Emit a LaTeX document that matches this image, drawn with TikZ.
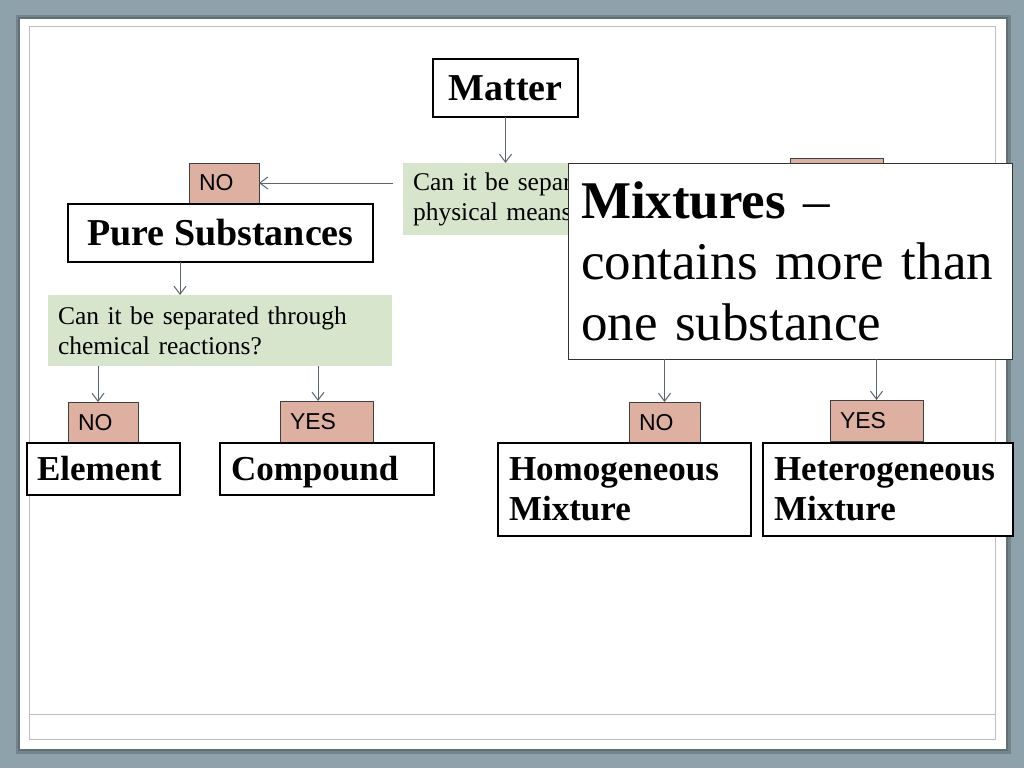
\documentclass[tikz,border=0pt]{standalone}
\usepackage{fontspec}
\setmainfont{Liberation Serif}
\newfontfamily\lblfont{Liberation Sans}
\usetikzlibrary{arrows.meta,calc}
\definecolor{bgblue}{RGB}{141,162,170}
\definecolor{salmon}{RGB}{222,176,161}
\definecolor{lgreen}{RGB}{215,229,205}
\definecolor{arrowgray}{RGB}{90,100,110}
\definecolor{frameline}{RGB}{190,190,190}
\tikzset{
  blackbox/.style={draw=black, line width=1.8pt, fill=white, inner sep=0pt, outer sep=0pt},
  bigtext/.style={font=\bfseries\fontsize{38}{44}\selectfont},
  midtext/.style={font=\bfseries\fontsize{35}{40}\selectfont},
  oneline/.style={text height=27.5pt, text depth=5.5pt},
  greenbox/.style={fill=lgreen, draw=none, inner sep=0pt, outer sep=0pt, anchor=north west,
    font=\fontsize{25.5}{30}\selectfont, align=left},
  lblbox/.style={draw=black!75, line width=0.8pt, fill=salmon, inner sep=0pt, outer sep=0pt,
    font=\lblfont\fontsize{23}{26}\selectfont},
  arr/.style={draw=arrowgray, line width=1pt, -{Straight Barb[length=8pt,width=12pt]}}
}
\begin{document}
\begin{tikzpicture}[x=1pt,y=-1pt]
\useasboundingbox (0,0) rectangle (1024,768);
% background and slide
\fill[bgblue] (0,0) rectangle (1024,768);
\fill[black,opacity=0.18] (16,15) rectangle (1011,754);
\fill[black,opacity=0.15] (18,17) rectangle (1008,751);
\fill[white] (20,19) rectangle (1006,749);
\draw[frameline, line width=1pt] (29,27) rectangle (995,739);
\draw[frameline, line width=1pt] (29,714) -- (995,714);

% top level
\node[blackbox, bigtext, minimum width=145pt, minimum height=58pt] (matter) at (505.5,88) {Matter};

\node[greenbox, text width=324pt, minimum height=72pt, inner xsep=10pt] (g1) at (403,163)
  {Can it be separated through\\physical means?};

\node[lblbox, minimum width=70pt, minimum height=40pt, text width=50pt, align=left, inner xsep=10pt] (no1) at (224,183) {NO};
\node[lblbox, minimum width=93pt, minimum height=40pt] (yes1) at (836.5,178) {};

\draw[arr] (matter.south) -- (matter.south |- g1.north);
\draw[arr, shorten <=10pt] (g1.west |- no1.east) -- (no1.east);

% pure substances branch
\node[blackbox, bigtext, minimum width=305pt, minimum height=58pt] (pure) at (220.5,233) {Pure Substances};

\node[greenbox, text width=324pt, minimum height=71pt, inner xsep=10pt] (g2) at (48,295)
  {Can it be separated through\\chemical reactions?};

\draw[arr] ([xshift=-40.5pt]pure.south) -- ([xshift=-40.5pt]pure.south |- g2.north);

\node[lblbox, minimum width=70pt, minimum height=41pt, text width=50pt, align=left, inner xsep=10pt] (no2) at (103,422.5) {NO};
\node[lblbox, minimum width=93pt, minimum height=42pt, text width=73pt, align=left, inner xsep=10pt] (yes2) at (326.5,422) {YES};

\draw[arr] ([xshift=-5pt]no2.north |- g2.south) -- ([xshift=-5pt]no2.north);
\draw[arr] ([xshift=-8.5pt]yes2.north |- g2.south) -- ([xshift=-8.5pt]yes2.north);

\node[blackbox, midtext, oneline, minimum width=153pt, minimum height=52pt, text width=133pt, align=left, inner xsep=10pt] (element) at (103.5,469) {Element};
\node[blackbox, midtext, oneline, minimum width=214pt, minimum height=52pt, text width=192pt, align=left, inner xsep=11pt] (compound) at (327,469) {Compound};

% mixtures branch
\node[lblbox, minimum width=71pt, minimum height=41pt, text width=51pt, align=left, inner xsep=10pt] (no3) at (664.5,422.5) {NO};
\node[lblbox, minimum width=93pt, minimum height=41pt, text width=73pt, align=left, inner xsep=10pt] (yes3) at (876.5,420.5) {YES};

\node[blackbox, midtext, minimum width=253pt, minimum height=93pt, text width=231pt, align=left, inner xsep=11pt] (homo) at (624.5,489.5) {Homogeneous\\Mixture};
\node[blackbox, midtext, minimum width=250pt, minimum height=93pt, text width=228pt, align=left, inner xsep=11pt] (hetero) at (888,489.5) {Heterogeneous\\Mixture};

% callout box on top
\node[draw=black!80, line width=1pt, fill=white, inner sep=0pt, outer sep=0pt,
  minimum width=444pt, minimum height=196pt, text width=418pt, inner xsep=13pt, align=left,
  font=\fontsize{53}{61}\selectfont] (mix) at (790,261)
  {\textbf{Mixtures} --\\contains more than\\one substance};

\draw[arr] (no3.north |- mix.south) -- (no3.north);
\draw[arr] (yes3.north |- mix.south) -- (yes3.north);
\end{tikzpicture}
\end{document}
